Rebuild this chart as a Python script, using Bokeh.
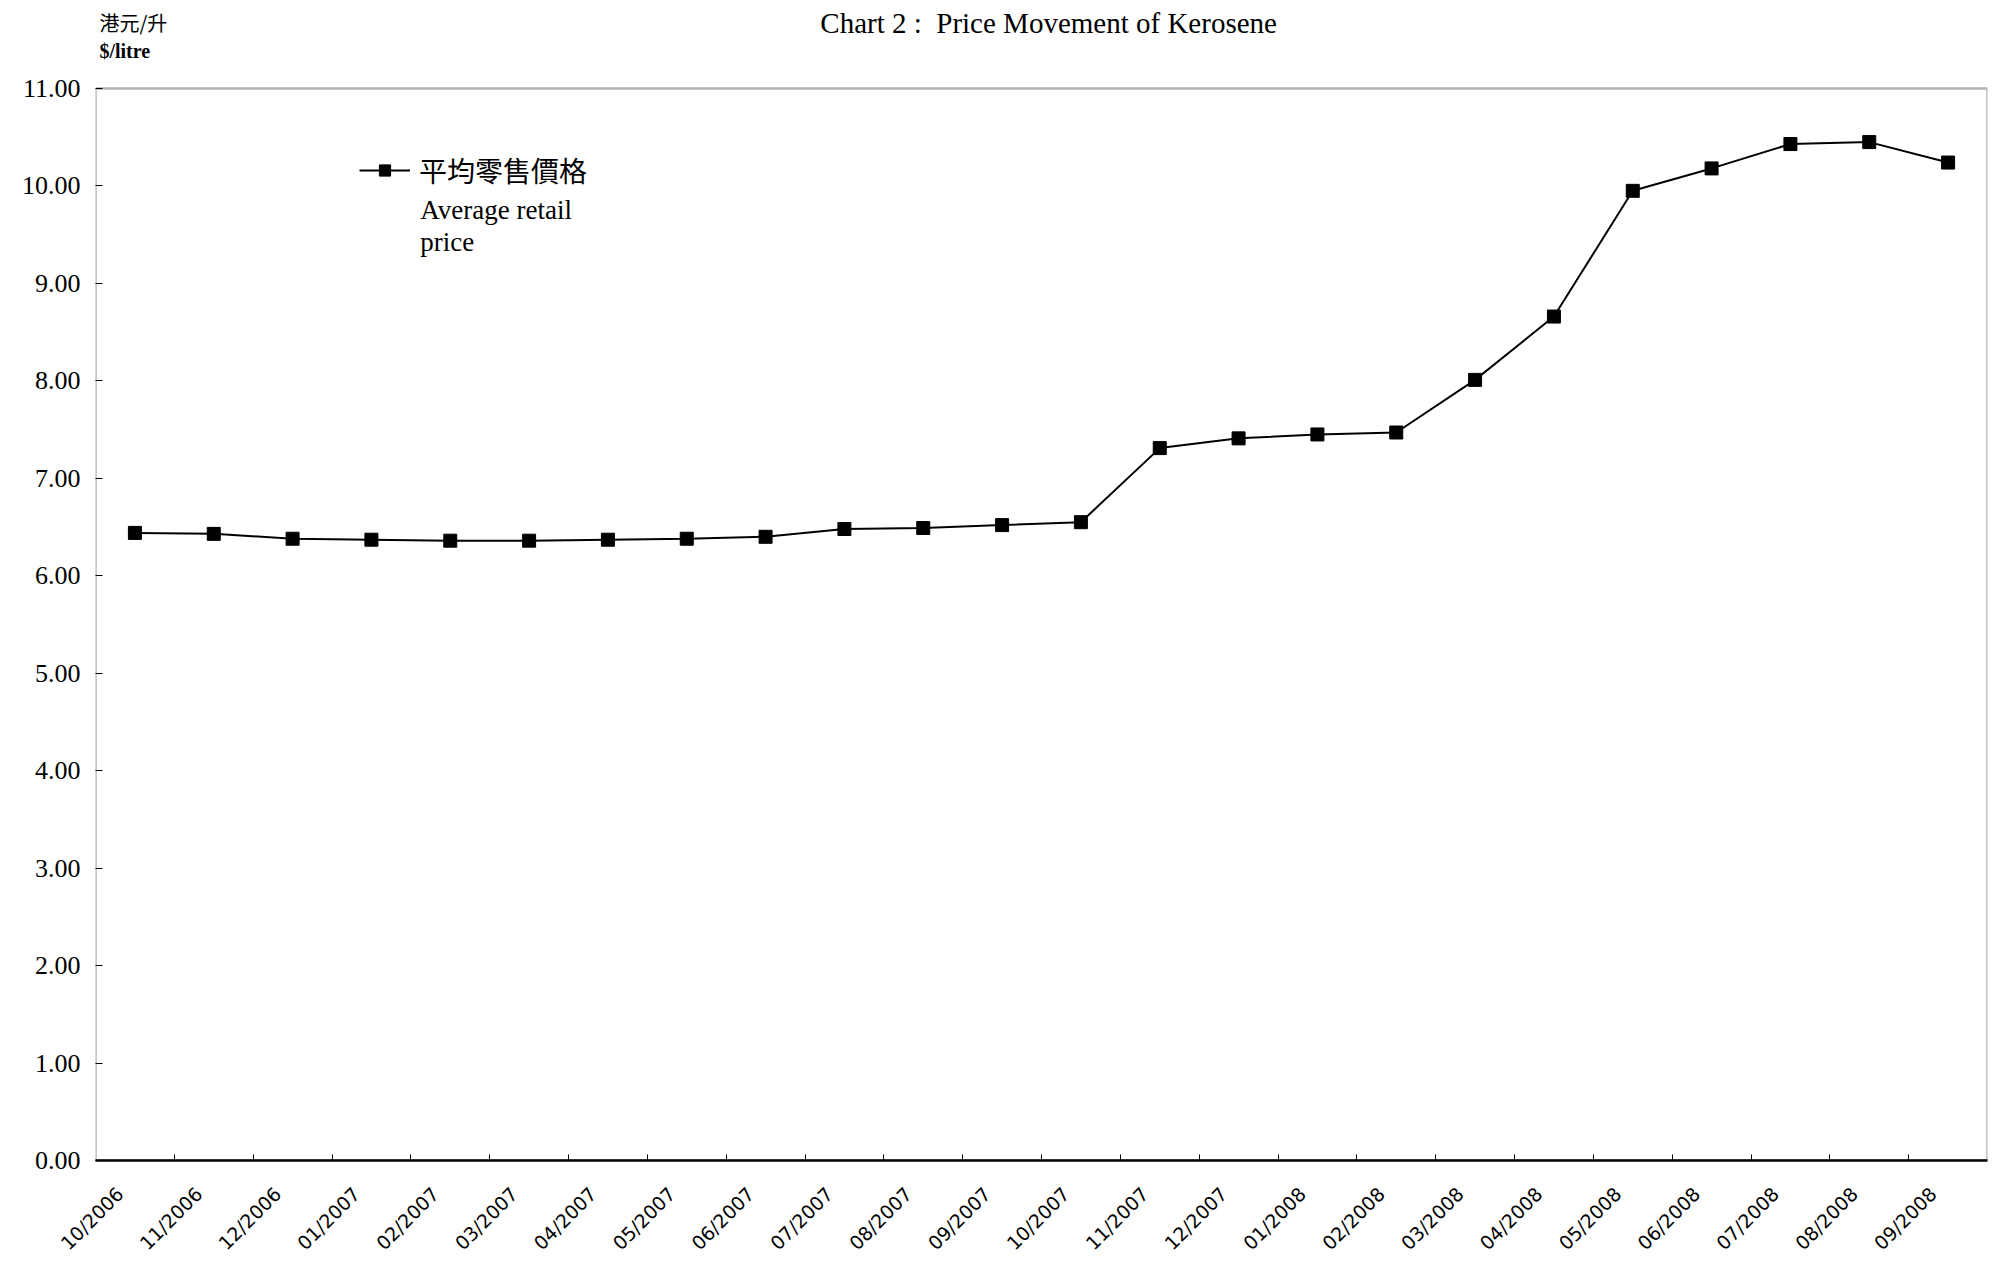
import math
from bokeh.plotting import figure
from bokeh.models import (FixedTicker, NumeralTickFormatter, Label, Range1d,
                          Legend, LegendItem, BoxAnnotation)
from bokeh.embed import file_html
from bokeh.resources import INLINE

months = ["10/2006", "11/2006", "12/2006", "01/2007", "02/2007", "03/2007",
          "04/2007", "05/2007", "06/2007", "07/2007", "08/2007", "09/2007",
          "10/2007", "11/2007", "12/2007", "01/2008", "02/2008", "03/2008",
          "04/2008", "05/2008", "06/2008", "07/2008", "08/2008", "09/2008"]
prices = [6.44, 6.43, 6.38, 6.37, 6.36, 6.36, 6.37, 6.38, 6.40, 6.48, 6.49, 6.52,
          6.55, 7.31, 7.41, 7.45, 7.47, 8.01, 8.66, 9.95, 10.18, 10.43, 10.45, 10.24]
y_ticks = [0, 1, 2, 3, 4, 5, 6, 7, 8, 9, 10, 11]
y_max = 11

title_text = "Chart 2 :\u00a0 Price Movement of Kerosene"
unit_cn = "港元/升"
unit_en = "$/litre"
legend_cn = "平均零售價格"
legend_en1 = "Average retail"
legend_en2 = "price"

n = len(months)
x = [i + 0.5 for i in range(n)]
label_shift = 0.19  # rotated labels end just left of the category centre
label_pos = [xi - label_shift for xi in x]

# plot range extends above 11 so that the heading texts can sit in the frame
p = figure(width=1992, height=1266, output_backend="svg", toolbar_location=None,
           x_range=Range1d(0, n), y_range=Range1d(0, 11.903),
           min_border_left=95, min_border_right=5, min_border_top=0,
           min_border_bottom=106)
p.grid.visible = False
p.outline_line_color = None
p.background_fill_color = "white"

# the chart box from 0 to 11
p.add_layout(BoxAnnotation(left=0, right=n, bottom=0, top=y_max, fill_alpha=0,
                           line_color="black", line_width=2.5))

r_line = p.line(x, prices, line_color="black", line_width=2)
r_pts = p.scatter(x, prices, marker="square", size=13, fill_color="black",
                  line_color="black")

# y axis
p.yaxis.ticker = FixedTicker(ticks=y_ticks)
p.yaxis.formatter = NumeralTickFormatter(format="0.00")
p.yaxis.major_label_text_font = "Liberation Serif"
p.yaxis.major_label_text_font_size = "26px"
p.yaxis.major_label_text_color = "black"
p.yaxis.major_tick_in = 7
p.yaxis.major_tick_out = 0
p.yaxis.minor_tick_in = 0
p.yaxis.minor_tick_out = 0
p.yaxis.major_tick_line_color = "black"
p.yaxis.axis_line_color = None
p.yaxis.major_label_standoff = 15

# x axis: labels near category centres, ticks at category boundaries
p.xaxis.ticker = FixedTicker(ticks=label_pos, minor_ticks=[float(i) for i in range(1, n)])
p.xaxis.major_label_overrides = {float(xi): m for xi, m in zip(label_pos, months)}
p.xaxis.major_label_orientation = math.pi / 4
p.xaxis.major_label_text_font = "DejaVu Sans"
p.xaxis.major_label_text_font_size = "19px"
p.xaxis.major_label_text_color = "black"
p.xaxis.major_label_standoff = 30
p.xaxis.major_tick_in = 0
p.xaxis.major_tick_out = 0
p.xaxis.minor_tick_in = 6
p.xaxis.minor_tick_out = 0
p.xaxis.minor_tick_line_color = "black"
p.xaxis.axis_line_width = 2.5
p.xaxis.axis_line_color = "black"

legend = Legend(items=[LegendItem(label=legend_cn, renderers=[r_line, r_pts])],
                location=(264, 970), glyph_width=51, glyph_height=28,
                label_height=28, padding=0, margin=0, label_standoff=9,
                border_line_color=None, background_fill_alpha=0,
                label_text_font="Noto Sans CJK TC", label_text_font_size="28px",
                label_text_color="black")
p.add_layout(legend, "center")

p.add_layout(Label(x=4.12, y=9.75, text=legend_en1, text_font="Liberation Serif",
                   text_font_size="27px", text_baseline="middle", text_color="black"))
p.add_layout(Label(x=4.12, y=9.42, text=legend_en2, text_font="Liberation Serif",
                   text_font_size="27px", text_baseline="middle", text_color="black"))

p.add_layout(Label(x=12.09, y=11.667, text=title_text, text_font="Liberation Serif",
                   text_font_size="29px", text_align="center", text_baseline="middle",
                   text_color="black"))
p.add_layout(Label(x=0.05, y=11.68, text=unit_cn, text_font="Noto Sans CJK TC",
                   text_font_size="20px", text_baseline="middle", text_color="black"))
p.add_layout(Label(x=0.05, y=11.38, text=unit_en, text_font="Liberation Serif",
                   text_font_size="20px", text_font_style="bold",
                   text_baseline="middle", text_color="black"))

open("out.html", "w").write(file_html(p, INLINE))
